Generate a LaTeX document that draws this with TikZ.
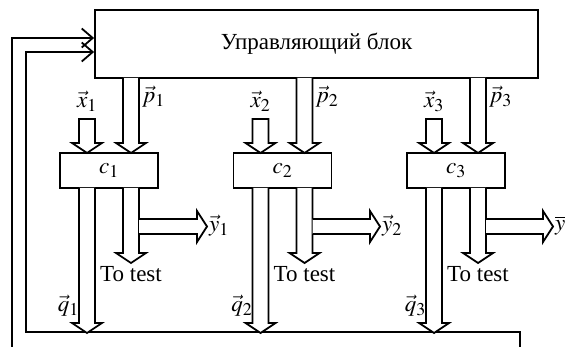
\documentclass[tikz,border=0pt]{standalone}
\usepackage{mathptmx}
\usepackage{fontspec}
\setmainfont{Liberation Serif}
\DeclareMathSizes{23}{23}{18}{14}
\usetikzlibrary{arrows.meta}
\tikzset{
  ln/.style={line width=1.8pt},
  harrow/.style={ln, fill=white, line join=miter},
  blk/.style={ln, draw, minimum width=98pt, minimum height=35pt, inner sep=0pt, font=\fontsize{23}{27}\selectfont},
  lbl/.style={inner sep=0pt, font=\fontsize{23}{27}\selectfont},
  txt/.style={inner sep=0pt, font=\fontsize{23}{27}\selectfont},
  fbtip/.style={-{Straight Barb[length=11pt,width=19pt,line width=1.8pt]}}
}
% vertical hollow arrow: {x centre}{y start}{y tip}
\newcommand{\hdown}[3]{%
  \draw[harrow] ({#1-8},#2) -- ({#1-8},{#3-10}) -- ({#1-15},{#3-10}) -- (#1,#3) -- ({#1+15},{#3-10}) -- ({#1+8},{#3-10}) -- ({#1+8},#2);}
\newcommand{\hdownc}[3]{%
  \draw[harrow] ({#1-8},#2) -- ({#1-8},{#3-10}) -- ({#1-15},{#3-10}) -- (#1,#3) -- ({#1+15},{#3-10}) -- ({#1+8},{#3-10}) -- ({#1+8},#2) -- cycle;}
% horizontal hollow arrow: {y centre}{x start}{x tip}
\newcommand{\hright}[3]{%
  \draw[harrow] (#2,{#1-7.5}) -- ({#3-10},{#1-7.5}) -- ({#3-10},{#1-15.5}) -- (#3,#1) -- ({#3-10},{#1+15.5}) -- ({#3-10},{#1+7.5}) -- (#2,{#1+7.5});}
\begin{document}
\begin{tikzpicture}[x=1pt,y=-1pt]
\useasboundingbox[fill=white] (0,0) rectangle (570,347);

% control block
\node[blk, minimum width=443pt, minimum height=68pt] (ctrl) at (316.5,44) {Управляющий блок};

% feedback lines
\coordinate (fbA) at (12,347);
\coordinate (fbB) at (520,347);
\draw[ln, fbtip] (fbA) |- ([yshift=6pt]ctrl.west);
\draw[ln, fbtip] (fbB) -- (520,332) -- (26,332) -- (26,52) -- ([yshift=-8pt]ctrl.west);

% computing blocks
\foreach \i/\L in {1/60, 2/233.5, 3/407}{
  \node[blk] (c\i) at ({\L+49},170.5) {$c_{\i}$};
  \pgfmathsetmacro{\xa}{\L+27}
  \pgfmathsetmacro{\xb}{\L+71}
  % inputs
  \hdownc{\xa}{119}{153}
  \hdown{\xb}{78}{153}
  % outputs
  \hdown{\xa}{188}{333}
  \hdown{\xb}{188}{263}
  % labels
  \node[lbl] (x\i) at (\xa,101) {$\vec{x}_{\i}$};
  \node[lbl, anchor=west] (p\i) at ({\xb+11},97) {$\vec{p}_{\i}$};
  \node[lbl, anchor=east] (q\i) at ({\xa-8},306) {$\vec{q}_{\i}$};
  \node[txt] (t\i) at (\xb,274) {To test};
}
% y outputs
\hright{226.5}{139}{207}
\hright{226.5}{312.5}{380}
\hright{226.5}{486}{553}
\node[lbl, anchor=west] (y1) at (209,226) {$\vec{y}_1$};
\node[lbl, anchor=west] (y2) at (382,226) {$\vec{y}_2$};
\node[lbl, anchor=west] (y3) at (555,226) {$\overline{y}$};
\end{tikzpicture}
\end{document}
